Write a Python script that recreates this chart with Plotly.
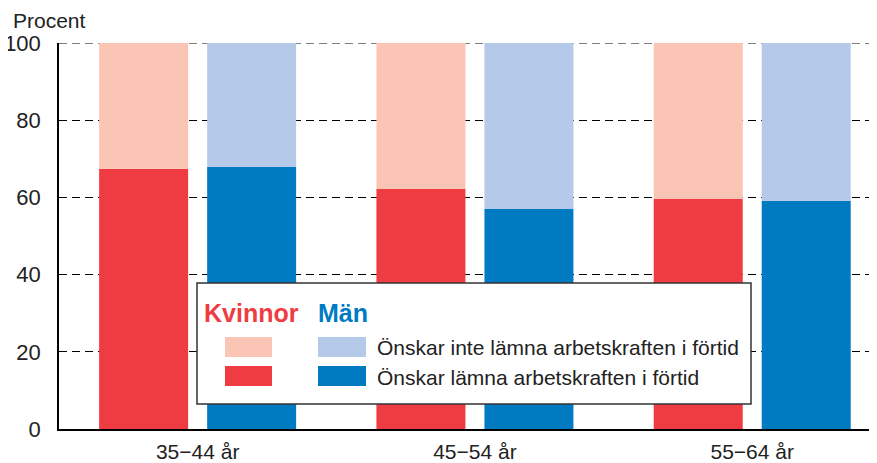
import plotly.graph_objects as go

# data
aldersgrupper = ["35\u221244 år", "45\u221254 år", "55\u221264 år"]
kvinnor_lamna = [67.4, 62.2, 59.6]
man_lamna = [67.9, 57.0, 59.1]
y_ticks = [0, 20, 40, 60, 80, 100]

K_DARK = "#EF3B42"
K_LIGHT = "#FBC5B6"
M_DARK = "#007BC2"
M_LIGHT = "#B5CAE8"
FONT = "Liberation Sans, Arial, sans-serif"

# the page body has an 8px margin, so the figure is 8px smaller
OFF = 8
W, H = 877 - OFF, 463 - OFF
ML, MR, MT, MB = 59 - OFF, 0, 43 - OFF, 34


def px(x):
    return (x - OFF - ML) / (W - ML - MR)


def py(y):
    return (H - MB - (y - OFF)) / (H - MT - MB)


kvinnor_inte = [100 - v for v in kvinnor_lamna]
man_inte = [100 - v for v in man_lamna]

fig = go.Figure()
fig.add_trace(go.Bar(x=aldersgrupper, y=kvinnor_lamna, offsetgroup="k",
                     marker_color=K_DARK, marker_line_width=0))
fig.add_trace(go.Bar(x=aldersgrupper, y=kvinnor_inte, base=kvinnor_lamna, offsetgroup="k",
                     marker_color=K_LIGHT, marker_line_width=0))
fig.add_trace(go.Bar(x=aldersgrupper, y=man_lamna, offsetgroup="m",
                     marker_color=M_DARK, marker_line_width=0))
fig.add_trace(go.Bar(x=aldersgrupper, y=man_inte, base=man_lamna, offsetgroup="m",
                     marker_color=M_LIGHT, marker_line_width=0))

shapes = [
    # top gridline (plotly drops the one on the range edge)
    dict(type="line", xref="paper", yref="y", x0=0, x1=1, y0=y_ticks[-1], y1=y_ticks[-1],
         line=dict(color="black", width=1.2, dash="8px,5px"), layer="below"),
    dict(type="rect", xref="paper", yref="paper",
         x0=px(197), x1=px(751), y0=py(404), y1=py(283),
         line=dict(color="#333333", width=1.5), fillcolor="white", layer="above"),
]
for (x0, x1, y0, y1, c) in [
    (225, 272, 337, 357, K_LIGHT), (225, 272, 366, 386, K_DARK),
    (318, 366, 337, 357, M_LIGHT), (318, 366, 366, 386, M_DARK),
]:
    shapes.append(dict(type="rect", xref="paper", yref="paper",
                       x0=px(x0), x1=px(x1), y0=py(y1), y1=py(y0),
                       line=dict(width=0), fillcolor=c, layer="above"))

annotations = [
    dict(text="Procent", xref="paper", yref="paper", x=px(11), y=py(20),
         xanchor="left", yanchor="middle", showarrow=False,
         font=dict(size=21, color="#222222", family=FONT)),
    dict(text="<b>Kvinnor</b>", xref="paper", yref="paper", x=px(202), y=py(313),
         xanchor="left", yanchor="middle", showarrow=False,
         font=dict(size=25, color=K_DARK, family=FONT)),
    dict(text="<b>Män</b>", xref="paper", yref="paper", x=px(316), y=py(313),
         xanchor="left", yanchor="middle", showarrow=False,
         font=dict(size=25, color=M_DARK, family=FONT)),
    dict(text="Önskar inte lämna arbetskraften i förtid", xref="paper", yref="paper",
         x=px(375), y=py(347), xanchor="left", yanchor="middle", showarrow=False,
         font=dict(size=21, color="#222222", family=FONT)),
    dict(text="Önskar lämna arbetskraften i förtid", xref="paper", yref="paper",
         x=px(375), y=py(377), xanchor="left", yanchor="middle", showarrow=False,
         font=dict(size=21, color="#222222", family=FONT)),
]

fig.update_layout(
    width=W, height=H,
    margin=dict(l=ML, r=MR, t=MT, b=MB, pad=0),
    paper_bgcolor="white", plot_bgcolor="white",
    barmode="group", bargap=0.221, bargroupgap=0.176,
    showlegend=False,
    font=dict(family=FONT, color="#222222"),
    shapes=shapes, annotations=annotations,
)
fig.update_xaxes(
    type="category", range=[-0.5, 2.45], automargin=False,
    showline=True, linecolor="black", linewidth=1.5,
    showgrid=False, ticks="", tickfont=dict(size=21, color="#222222"),
    ticklabelstandoff=3,
)
fig.update_yaxes(
    range=[0, 100], tickvals=y_ticks, automargin=False,
    showline=True, linecolor="black", linewidth=1.5,
    showgrid=True, gridcolor="black", gridwidth=1.2, griddash="8px,5px",
    zeroline=False, ticks="", tickfont=dict(size=22, color="#222222"),
    ticklabelstandoff=12,
)

fig.write_html("out.html")
